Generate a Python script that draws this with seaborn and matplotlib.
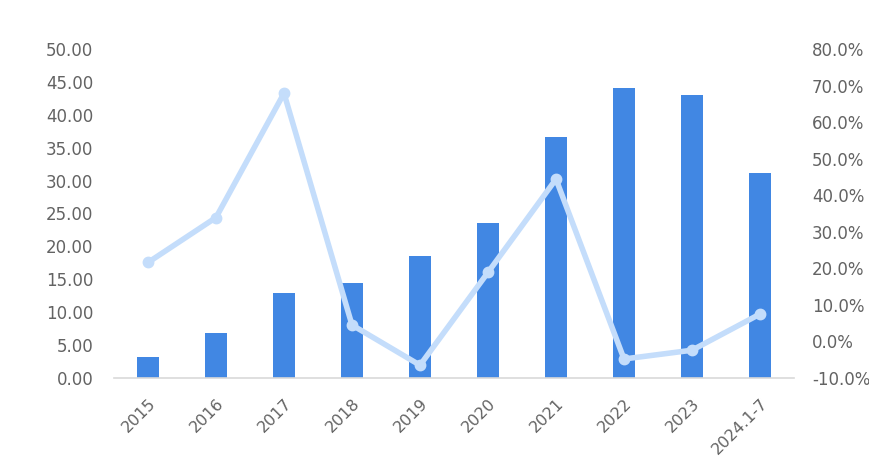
import matplotlib
matplotlib.use("Agg")
import matplotlib.pyplot as plt
import seaborn as sns
import pandas as pd

categories = ["2015", "2016", "2017", "2018", "2019", "2020", "2021", "2022", "2023", "2024.1-7"]
values = [3.2, 6.9, 12.9, 14.5, 18.5, 23.5, 36.6, 44.1, 43.0, 31.1]
growth = [21.6, 33.9, 67.9, 4.5, -6.5, 18.9, 44.4, -4.8, -2.4, 7.5]
left_ticks = [0, 5, 10, 15, 20, 25, 30, 35, 40, 45, 50]
right_ticks = [-10, 0, 10, 20, 30, 40, 50, 60, 70, 80]

sns.set_theme(style="white")
plt.rcParams['font.family'] = ['DejaVu Sans']

df = pd.DataFrame({"cat": categories, "val": values, "g": growth})

fig = plt.figure(figsize=(8.7, 4.61), dpi=100)
ax = fig.add_axes([114/870, (461-378)/461, (794-114)/870, (378-49)/461])

sns.barplot(data=df, x="cat", y="val", ax=ax, color="#4187e3", width=0.32,
            saturation=1, edgecolor="none")
ax.set_ylim(0, 50)
ax.set_yticks(left_ticks)
ax.set_yticklabels([f"{v:.2f}" for v in left_ticks])
ax.set_xlim(-0.5, len(categories) - 0.5)
ax.set_xlabel("")
ax.set_ylabel("")
tc = "#636363"
ax.tick_params(axis="y", length=0, pad=15, labelsize=12, labelcolor=tc)
ax.tick_params(axis="x", length=0, pad=13, labelsize=11.5, labelcolor=tc)
for lbl in ax.get_xticklabels():
    lbl.set_rotation(45)
    lbl.set_ha("right")
    lbl.set_rotation_mode("anchor")
for s in ["top", "right", "left"]:
    ax.spines[s].set_visible(False)
ax.spines["bottom"].set_color("#d9d9d9")
ax.spines["bottom"].set_linewidth(1.2)

ax2 = ax.twinx()
sns.pointplot(data=df, x="cat", y="g", ax=ax2, color="#c4ddfb", markers="o",
              markersize=5.5, linewidth=4)
ax2.set_ylim(-10, 80)
ax2.set_yticks(right_ticks)
ax2.set_yticklabels([f"{v:.1f}%" for v in right_ticks])
ax2.set_ylabel("")
ax2.tick_params(axis="y", length=0, pad=13, labelsize=12, labelcolor=tc)
for s in ["top", "right", "left", "bottom"]:
    ax2.spines[s].set_visible(False)
ax2.set_xlim(-0.5, len(categories) - 0.5)

fig.savefig("out.png", dpi=100)
